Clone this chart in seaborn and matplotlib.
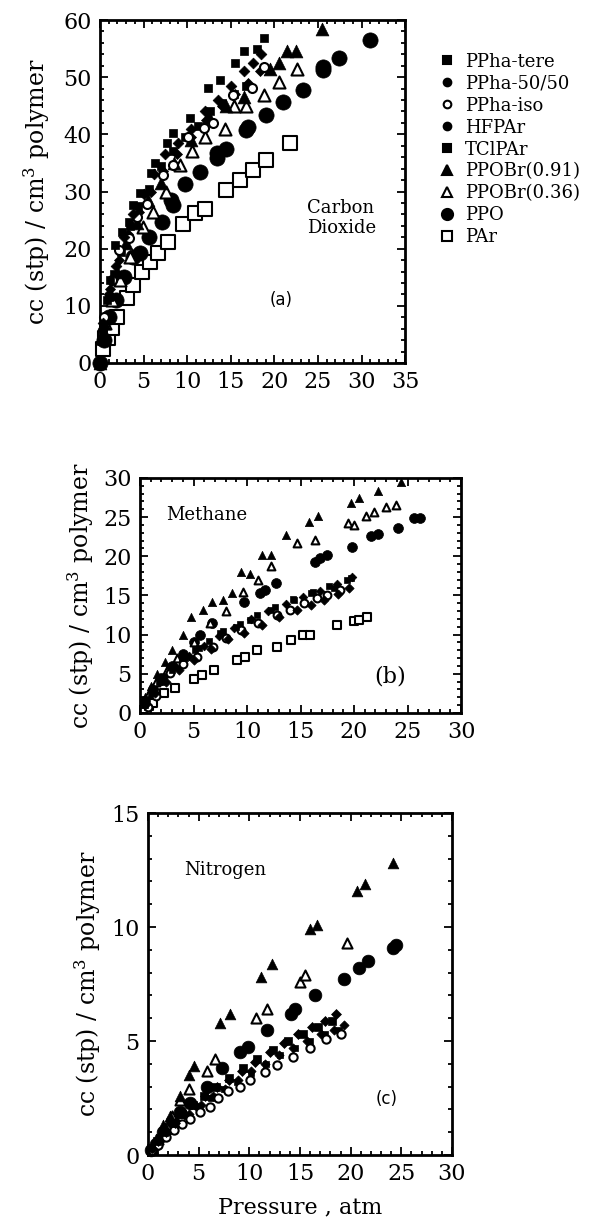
import matplotlib
matplotlib.use('Agg')
import matplotlib.pyplot as plt
from matplotlib.lines import Line2D
from matplotlib.ticker import MultipleLocator
import seaborn as sns
import pandas as pd

# ---- (a) Carbon dioxide: pressure (atm) and uptake (cc(stp)/cm3 polymer)
co2_tere_p = [0.3, 0.8, 1.1, 1.7, 2.5, 3.3, 3.8, 4.6, 5.9, 6.3, 7.7, 8.4, 10.3, 12.4, 13.8, 15.5, 16.5, 18.0, 18.8]
co2_tere_c = [5, 11, 14.5, 20.6, 23, 24.7, 27.7, 29.7, 33.2, 35, 38.4, 40.2, 42.8, 48.1, 49.5, 52.4, 54.6, 55, 56.8]
co2_5050_p = [0.4, 1.0, 1.8, 2.8, 3.8, 5.0, 6.2, 7.5, 9.0, 10.5, 12.0, 13.5, 15.0, 16.5, 17.5, 18.5]
co2_5050_c = [7, 12, 17, 22, 26, 29.5, 33, 36.5, 38.5, 41, 44, 46, 48.5, 51, 52.5, 54]
co2_iso_p = [0.5, 1.4, 2.2, 3.3, 4.2, 5.4, 7.2, 8.4, 10.1, 11.9, 13.0, 15.3, 17.4, 18.8]
co2_iso_c = [8, 14.5, 19.7, 21.9, 25.5, 27.9, 32.9, 34.6, 39.5, 41.1, 42, 46.9, 48.1, 51.8]
co2_hfpar_p = [0.5, 1.2, 2.2, 3.2, 4.5, 5.8, 7.2, 8.8, 10.5, 12.2, 14.0, 15.5, 17.0, 18.3]
co2_hfpar_c = [8, 13, 18, 22.5, 26.5, 30, 33.5, 36.5, 39.5, 42.5, 45, 47, 49, 51]
co2_tclpar_p = [0.4, 1.0, 1.6, 2.4, 3.4, 4.4, 5.6, 7.0, 8.4, 9.8, 11.2, 12.6, 14.0, 15.4, 16.8]
co2_tclpar_c = [6, 11.5, 15.5, 19.5, 24, 27.5, 30.5, 34.5, 37, 39.5, 41.5, 44, 45.5, 47, 48.5]
co2_br91_p = [0.0, 0.5, 1.2, 2.0, 3.0, 4.2, 5.5, 7.0, 8.5, 10.5, 12.5, 14.5, 16.5, 19.5, 20.5, 21.5, 22.5, 25.5]
co2_br91_c = [0, 7, 12, 16, 21, 24.5, 28.5, 31.5, 35, 39, 43, 45, 46.5, 51.5, 52.5, 54.5, 54.5, 58.5]
co2_br36_p = [0.6, 1.4, 2.3, 3.4, 4.9, 6.1, 7.6, 9.2, 10.6, 12.1, 14.3, 15.4, 16.8, 18.8, 20.5, 22.6]
co2_br36_c = [7, 11, 14.5, 18.5, 23.8, 26.5, 30, 34.6, 37, 39.5, 41, 44.9, 45, 46.9, 49.2, 51.5]
co2_ppo_p = [0.0, 0.5, 1.0, 1.8, 2.8, 3.8, 4.6, 5.6, 7.1, 8.2, 8.4, 9.8, 11.5, 13.4, 13.4, 14.5, 16.8, 17.0, 19.1, 21.0, 23.3, 25.6, 25.6, 27.4, 31.0]
co2_ppo_c = [0, 4, 8, 11, 15, 18.6, 19.2, 22, 24.7, 28.5, 27.6, 31.4, 33.4, 35.8, 36.7, 37.5, 40.7, 41.3, 43.4, 45.7, 47.7, 51.2, 51.8, 53.3, 56.5]
co2_par_p = [0.3, 0.6, 0.96, 1.34, 1.91, 3.06, 3.83, 4.78, 5.74, 6.69, 7.84, 9.56, 10.9, 12.05, 14.5, 16.1, 17.6, 19.1, 21.8]
co2_par_c = [2.5, 4.3, 4.3, 6.1, 8.1, 11.3, 13.6, 16.0, 17.7, 19.2, 21.2, 24.4, 26.2, 27.0, 30.2, 32.0, 33.7, 35.5, 38.4]

# ---- (b) Methane
ch4_tere_p = [0.5, 1.2, 2.0, 3.0, 4.2, 5.5, 7.5, 9.0, 10.3, 12.2, 14.4, 16.2, 18.1, 19.7]
ch4_tere_c = [1, 2.5, 4, 5.5, 7, 8.3, 10.2, 11, 11.9, 13.2, 14.4, 15.5, 15.9, 17.2]
ch4_5050_p = [0.6, 1.4, 2.4, 3.6, 5.0, 6.6, 8.2, 9.7, 11.4, 13.0, 14.7, 16.0, 17.2, 18.5, 19.5]
ch4_5050_c = [1.2, 2.6, 4, 5.5, 6.8, 8.2, 9.5, 10.2, 11.2, 12.3, 13.2, 13.8, 14.4, 15.2, 16.0]
ch4_iso_p = [0.7, 1.5, 2.8, 4.0, 5.3, 6.8, 8.0, 9.4, 11.0, 12.8, 14.0, 15.3, 16.5, 17.5, 18.7]
ch4_iso_c = [0.8, 2.2, 5.1, 6.2, 7.2, 8.4, 9.6, 10.6, 11.5, 12.5, 13.2, 14.0, 14.7, 15.1, 15.7]
ch4_hfpar_p = [0.5, 1.3, 2.2, 3.3, 4.6, 6.0, 7.4, 8.8, 10.4, 12.0, 13.6, 15.2, 16.8, 18.4, 19.8]
ch4_hfpar_c = [1.2, 3, 4.6, 6, 7.3, 8.6, 9.8, 10.9, 12, 13, 13.9, 14.8, 15.6, 16.4, 17.3]
ch4_tclpar_p = [0.4, 1.0, 1.8, 2.8, 3.9, 5.1, 6.4, 7.8, 9.3, 10.9, 12.6, 14.3, 16.0, 17.7, 19.3]
ch4_tclpar_c = [1, 2.4, 3.9, 5.4, 6.7, 8, 9.2, 10.4, 11.4, 12.5, 13.5, 14.5, 15.3, 16.2, 17.0]
ch4_br91_p = [0.5, 1.0, 1.6, 2.3, 3.0, 4.0, 4.8, 5.9, 6.7, 7.8, 8.6, 9.4, 10.3, 11.4, 12.2, 13.6, 15.8, 16.6, 19.7, 20.5, 22.2, 24.4]
ch4_br91_c = [2, 3.5, 5, 6.5, 8, 10, 12.3, 13.2, 14.2, 14.4, 15.3, 18.0, 17.8, 20.2, 20.2, 22.7, 24.4, 25.2, 26.8, 27.4, 28.3, 29.5]
ch4_br36_p = [0.8, 1.5, 2.5, 3.5, 5.0, 6.5, 8.0, 9.6, 11.0, 12.2, 14.7, 16.4, 19.4, 20.0, 21.1, 21.9, 23.0, 23.9]
ch4_br36_c = [2.5, 4, 5.5, 7, 9, 11.5, 13, 15.5, 17, 18.7, 21.7, 22.1, 24.2, 24.0, 25.1, 25.7, 26.3, 26.6]
ch4_ppo_p = [0.5, 1.2, 2.0, 3.0, 4.0, 5.0, 5.6, 6.7, 9.7, 11.2, 11.7, 12.7, 16.4, 16.8, 17.5, 19.8, 21.6, 22.2, 24.1, 25.6, 26.2]
ch4_ppo_c = [1.5, 3, 4.5, 6, 7.5, 9, 10, 11.5, 14.2, 15.3, 15.7, 16.6, 19.3, 19.8, 20.2, 21.2, 22.6, 22.9, 23.6, 24.9, 24.9]
ch4_par_p = [0.8, 1.25, 2.2, 3.3, 5.0, 5.8, 6.9, 9.1, 9.8, 10.9, 12.8, 14.1, 15.2, 15.9, 18.4, 20.0, 20.5, 21.2]
ch4_par_c = [0.9, 1.3, 2.5, 3.2, 4.4, 4.9, 5.5, 6.8, 7.2, 8.0, 8.4, 9.3, 10.0, 10.0, 11.2, 11.7, 11.9, 12.3]

# ---- (c) Nitrogen
n2_tere_p = [0.3, 0.9, 1.6, 2.5, 3.4, 4.4, 5.5, 6.7, 8.0, 9.4, 10.8, 12.3, 13.8, 15.3, 16.8, 18.2]
n2_tere_c = [0.3, 0.6, 1.0, 1.4, 1.8, 2.2, 2.6, 3.0, 3.4, 3.8, 4.2, 4.6, 5.0, 5.3, 5.6, 5.9]
n2_5050_p = [0.4, 1.0, 1.8, 2.7, 3.6, 4.6, 5.6, 6.8, 8.0, 9.3, 10.6, 12.0, 13.4, 14.8, 16.2, 17.5, 18.6]
n2_5050_c = [0.3, 0.6, 1.0, 1.4, 1.8, 2.2, 2.6, 3.0, 3.3, 3.7, 4.1, 4.5, 4.9, 5.3, 5.6, 5.9, 6.2]
n2_iso_p = [0.4, 1.0, 1.8, 2.6, 3.4, 4.1, 5.1, 6.1, 6.9, 7.9, 9.1, 10.1, 11.5, 12.7, 14.3, 16.0, 17.6, 19.0]
n2_iso_c = [0.2, 0.45, 0.8, 1.1, 1.35, 1.6, 1.9, 2.1, 2.5, 2.8, 3.0, 3.3, 3.65, 3.95, 4.3, 4.7, 5.1, 5.3]
n2_hfpar_p = [0.5, 1.2, 2.0, 3.0, 4.0, 5.2, 6.4, 7.6, 8.9, 10.2, 11.5, 12.9, 14.3, 15.7, 17.1, 18.4, 19.3]
n2_hfpar_c = [0.3, 0.6, 1.0, 1.4, 1.8, 2.2, 2.6, 2.9, 3.3, 3.7, 4.0, 4.4, 4.7, 5.0, 5.3, 5.5, 5.7]
n2_tclpar_p = [0.4, 1.1, 1.9, 2.9, 3.9, 5.0, 6.2, 7.5, 8.8, 10.2, 11.6, 13.0, 14.5, 16.0, 17.5, 18.9]
n2_tclpar_c = [0.3, 0.6, 1.0, 1.4, 1.7, 2.1, 2.5, 2.9, 3.2, 3.6, 4.0, 4.4, 4.7, 5.0, 5.3, 5.5]
n2_br91_p = [0.3, 0.8, 1.5, 2.2, 3.2, 4.0, 4.5, 7.1, 8.1, 11.2, 12.2, 16.0, 16.7, 20.6, 21.4, 24.2]
n2_br91_c = [0.3, 0.7, 1.3, 1.7, 2.6, 3.5, 3.9, 5.8, 6.2, 7.8, 8.4, 9.9, 10.1, 11.6, 11.9, 12.8]
n2_br36_p = [0.4, 1.0, 1.7, 2.4, 3.2, 4.0, 5.8, 6.6, 10.7, 11.7, 15.0, 15.5, 19.6]
n2_br36_c = [0.3, 0.7, 1.2, 1.7, 2.4, 2.9, 3.7, 4.2, 6.0, 6.4, 7.6, 7.9, 9.3]
n2_ppo_p = [0.3, 0.8, 1.5, 2.4, 3.2, 4.1, 5.8, 7.3, 9.1, 9.9, 11.7, 14.1, 14.5, 16.5, 19.3, 20.8, 21.7, 24.2, 24.5]
n2_ppo_c = [0.2, 0.5, 1.0, 1.5, 1.9, 2.3, 3.0, 3.8, 4.5, 4.75, 5.5, 6.2, 6.4, 7.0, 7.7, 8.2, 8.5, 9.1, 9.2]

polymers = ['PPha-tere', 'PPha-50/50', 'PPha-iso', 'HFPAr', 'TClPAr',
            'PPOBr(0.91)', 'PPOBr(0.36)', 'PPO', 'PAr']

sns.set_style('ticks')
plt.rcParams['font.family'] = ['DejaVu Serif']
plt.rcParams['mathtext.default'] = 'regular'
plt.rcParams['text.color'] = 'black'
plt.rcParams['axes.labelcolor'] = 'black'
plt.rcParams['axes.edgecolor'] = 'black'
plt.rcParams['xtick.color'] = 'black'
plt.rcParams['ytick.color'] = 'black'

# marker, filled?, base size
mstyle = {
    'PPha-tere': ('s', True, 32),
    'PPha-50/50': ('D', True, 30),
    'PPha-iso': ('o', False, 42),
    'HFPAr': ('D', True, 26),
    'TClPAr': ('s', True, 26),
    'PPOBr(0.91)': ('^', True, 85),
    'PPOBr(0.36)': ('^', False, 75),
    'PPO': ('o', True, 120),
    'PAr': ('s', False, 95),
}


def draw(ax, series, big, small):
    for name, p, c in series:
        m, filled, s = mstyle[name]
        k = big if s > 50 else small
        df = pd.DataFrame({'p': p, 'c': c})
        sns.scatterplot(data=df, x='p', y='c', ax=ax, marker=m, s=s * k,
                        color='black' if filled else 'white', edgecolor='black',
                        linewidth=1.5 if not filled else 0.5, zorder=3, clip_on=False)


def style(ax, xmax, ymax, xmaj, ymaj, xmin, ymin):
    ax.set_xlim(0, xmax)
    ax.set_ylim(0, ymax)
    ax.xaxis.set_major_locator(MultipleLocator(xmaj))
    ax.yaxis.set_major_locator(MultipleLocator(ymaj))
    ax.xaxis.set_minor_locator(MultipleLocator(xmin))
    ax.yaxis.set_minor_locator(MultipleLocator(ymin))
    ax.tick_params(which='both', direction='in', top=True, right=True, width=1.3, labelsize=16, pad=6)
    ax.tick_params(which='major', length=6)
    ax.tick_params(which='minor', length=3)
    for sp in ax.spines.values():
        sp.set_linewidth(2)
    ax.set_xlabel('')
    ax.set_ylabel('cc (stp) / cm$^3$ polymer', fontsize=17)


fig = plt.figure(figsize=(6.02, 12.28), dpi=100)

ax_a = fig.add_axes([0.166, 0.7044, 0.507, 0.2793])
draw(ax_a, [
    ('PAr', co2_par_p, co2_par_c),
    ('PPO', co2_ppo_p, co2_ppo_c),
    ('PPOBr(0.36)', co2_br36_p, co2_br36_c),
    ('PPOBr(0.91)', co2_br91_p, co2_br91_c),
    ('TClPAr', co2_tclpar_p, co2_tclpar_c),
    ('HFPAr', co2_hfpar_p, co2_hfpar_c),
    ('PPha-iso', co2_iso_p, co2_iso_c),
    ('PPha-50/50', co2_5050_p, co2_5050_c),
    ('PPha-tere', co2_tere_p, co2_tere_c),
], 1.0, 1.0)
style(ax_a, 35, 60, 5, 10, 1, 2)
ax_a.yaxis.labelpad = 8
ax_a.text(0.68, 0.38, 'Carbon\nDioxide', transform=ax_a.transAxes, fontsize=13, linespacing=1.1)
ax_a.text(0.555, 0.17, '(a)', transform=ax_a.transAxes, fontsize=12, family='DejaVu Sans')

ax_b = fig.add_axes([0.2326, 0.4194, 0.5332, 0.1914])
draw(ax_b, [
    ('PAr', ch4_par_p, ch4_par_c),
    ('PPO', ch4_ppo_p, ch4_ppo_c),
    ('PPOBr(0.36)', ch4_br36_p, ch4_br36_c),
    ('PPOBr(0.91)', ch4_br91_p, ch4_br91_c),
    ('TClPAr', ch4_tclpar_p, ch4_tclpar_c),
    ('HFPAr', ch4_hfpar_p, ch4_hfpar_c),
    ('PPha-iso', ch4_iso_p, ch4_iso_c),
    ('PPha-50/50', ch4_5050_p, ch4_5050_c),
    ('PPha-tere', ch4_tere_p, ch4_tere_c),
], 0.42, 0.75)
style(ax_b, 30, 30, 5, 5, 1, 1)
ax_b.yaxis.labelpad = 5
ax_b.text(0.08, 0.82, 'Methane', transform=ax_b.transAxes, fontsize=13)
ax_b.text(0.73, 0.13, '(b)', transform=ax_b.transAxes, fontsize=16)

ax_c = fig.add_axes([0.2458, 0.0594, 0.505, 0.2785])
draw(ax_c, [
    ('PPO', n2_ppo_p, n2_ppo_c),
    ('PPOBr(0.36)', n2_br36_p, n2_br36_c),
    ('PPOBr(0.91)', n2_br91_p, n2_br91_c),
    ('TClPAr', n2_tclpar_p, n2_tclpar_c),
    ('HFPAr', n2_hfpar_p, n2_hfpar_c),
    ('PPha-iso', n2_iso_p, n2_iso_c),
    ('PPha-50/50', n2_5050_p, n2_5050_c),
    ('PPha-tere', n2_tere_p, n2_tere_c),
], 0.7, 0.85)
style(ax_c, 30, 15, 5, 5, 1, 1)
ax_c.yaxis.labelpad = 6
ax_c.set_xlabel('Pressure , atm', fontsize=16, labelpad=8)
ax_c.text(0.12, 0.82, 'Nitrogen', transform=ax_c.transAxes, fontsize=13)
ax_c.text(0.75, 0.15, '(c)', transform=ax_c.transAxes, fontsize=12, family='DejaVu Sans')

# legend to the right of panel (a)
handles = []
for name in polymers:
    m, filled, s = mstyle[name]
    ms = {'PPO': 8, 'PAr': 7, 'PPOBr(0.91)': 7.5, 'PPOBr(0.36)': 7.5}.get(name, 5.5)
    handles.append(Line2D([], [], linestyle='none', marker='o' if name in ('PPha-50/50', 'HFPAr') else m,
                          markersize=ms, markerfacecolor='black' if filled else 'white',
                          markeredgecolor='black', markeredgewidth=1.5))
fig.legend(handles, polymers, loc='upper left', bbox_to_anchor=(0.715, 0.963), frameon=False,
           fontsize=13, handletextpad=0.5, labelspacing=0.22, handlelength=1.0, borderaxespad=0)

fig.savefig('out.png', dpi=100)
